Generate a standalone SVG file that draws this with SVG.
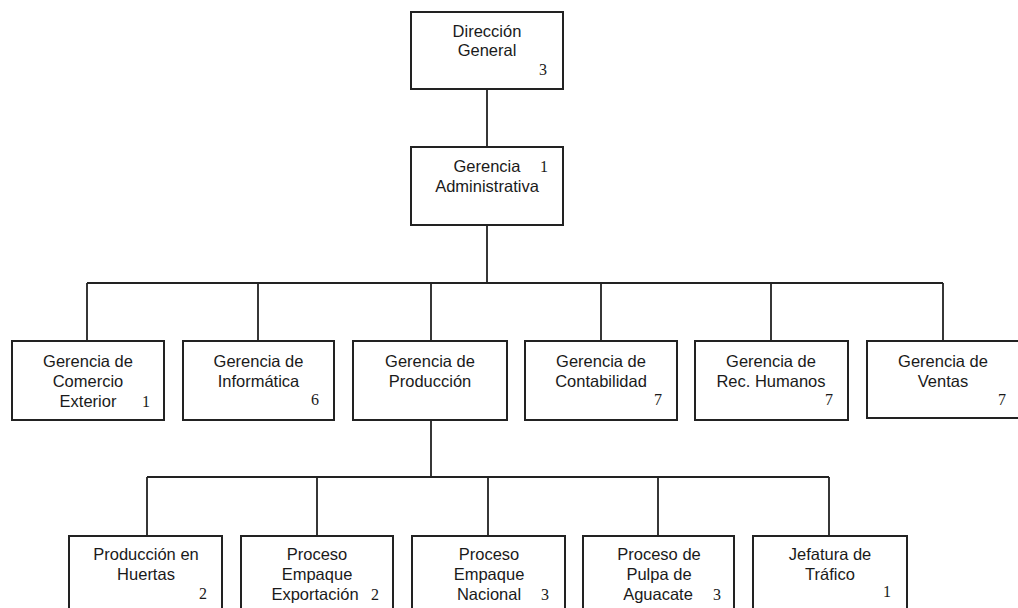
<svg xmlns="http://www.w3.org/2000/svg" width="1018" height="608" viewBox="0 0 1018 608">
<style>
.box{fill:#fff;stroke:#222;stroke-width:2}
.ln{fill:none;stroke:#222;stroke-width:1.8}
.t{font-family:"Liberation Sans",Arial,sans-serif;font-size:16.5px;fill:#1a1a1a;text-anchor:middle}
.n{font-family:"Liberation Serif","Times New Roman",serif;font-size:16px;fill:#1a1a1a;text-anchor:middle}
</style>
<rect width="1018" height="608" fill="#fff"/>
<g id="connectors">
<path class="ln" d="M487 89V147M487 225V283M87 283H943M87 283V341M258 283V341M431 283V341M601 283V341M771 283V341M943 283V341"/>
<path class="ln" d="M431 420V477M147 477H829M147 477V536M317 477V536M488 477V536M658 477V536M829 477V536"/>
</g>
<g id="n-direccion">
<rect class="box" x="411" y="12" width="152" height="77"/>
<text class="t" x="487" y="37">Dirección</text>
<text class="t" x="487" y="56">General</text>
<text class="n" x="543" y="75">3</text>
</g>
<g id="n-admin">
<rect class="box" x="411" y="147" width="152" height="78"/>
<text class="t" x="487" y="172">Gerencia</text>
<text class="n" x="544" y="172">1</text>
<text class="t" x="487" y="192">Administrativa</text>
</g>
<g id="n-comercio">
<rect class="box" x="12" y="341" width="152" height="79"/>
<text class="t" x="88" y="367">Gerencia de</text>
<text class="t" x="88" y="387">Comercio</text>
<text class="t" x="88" y="407">Exterior</text>
<text class="n" x="146" y="407">1</text>
</g>
<g id="n-informatica">
<rect class="box" x="183" y="341" width="151" height="79"/>
<text class="t" x="258.5" y="367">Gerencia de</text>
<text class="t" x="258.5" y="387">Informática</text>
<text class="n" x="315" y="405">6</text>
</g>
<g id="n-produccion">
<rect class="box" x="353" y="341" width="154" height="79"/>
<text class="t" x="430" y="367">Gerencia de</text>
<text class="t" x="430" y="387">Producción</text>
</g>
<g id="n-contabilidad">
<rect class="box" x="525" y="341" width="152" height="79"/>
<text class="t" x="601" y="367">Gerencia de</text>
<text class="t" x="601" y="387">Contabilidad</text>
<text class="n" x="658" y="405">7</text>
</g>
<g id="n-rrhh">
<rect class="box" x="695" y="341" width="153" height="79"/>
<text class="t" x="771" y="367">Gerencia de</text>
<text class="t" x="771" y="387">Rec. Humanos</text>
<text class="n" x="829" y="405">7</text>
</g>
<g id="n-ventas">
<rect class="box" x="867" y="341" width="153" height="77"/>
<text class="t" x="943" y="367">Gerencia de</text>
<text class="t" x="943" y="387">Ventas</text>
<text class="n" x="1002" y="405">7</text>
</g>
<g id="n-huertas">
<rect class="box" x="69" y="536" width="153" height="80"/>
<text class="t" x="146" y="560">Producción en</text>
<text class="t" x="146" y="580">Huertas</text>
<text class="n" x="203" y="599">2</text>
</g>
<g id="n-exportacion">
<rect class="box" x="241" y="536" width="152" height="80"/>
<text class="t" x="317" y="560">Proceso</text>
<text class="t" x="317" y="580">Empaque</text>
<text class="t" x="315" y="600">Exportación</text>
<text class="n" x="375" y="600">2</text>
</g>
<g id="n-nacional">
<rect class="box" x="412" y="536" width="153" height="80"/>
<text class="t" x="489" y="560">Proceso</text>
<text class="t" x="489" y="580">Empaque</text>
<text class="t" x="489" y="600">Nacional</text>
<text class="n" x="545" y="600">3</text>
</g>
<g id="n-pulpa">
<rect class="box" x="583" y="536" width="151" height="80"/>
<text class="t" x="659" y="560">Proceso de</text>
<text class="t" x="659" y="580">Pulpa de</text>
<text class="t" x="658" y="600">Aguacate</text>
<text class="n" x="717" y="600">3</text>
</g>
<g id="n-trafico">
<rect class="box" x="753" y="536" width="154" height="80"/>
<text class="t" x="830" y="560">Jefatura de</text>
<text class="t" x="830" y="580">Tráfico</text>
<text class="n" x="887" y="597">1</text>
</g>
</svg>
